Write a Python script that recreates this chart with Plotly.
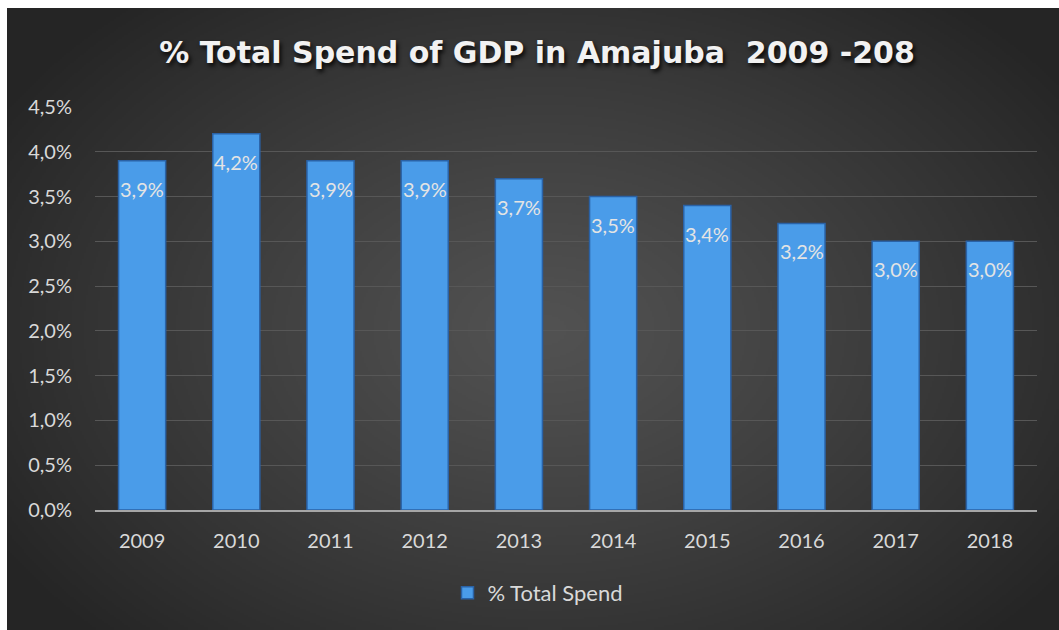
import base64, struct, zlib
import numpy as np
import plotly.graph_objects as go

years = ["2009", "2010", "2011", "2012", "2013", "2014", "2015", "2016", "2017", "2018"]
spend_pct = [3.9, 4.2, 3.9, 3.9, 3.7, 3.5, 3.4, 3.2, 3.0, 3.0]
y_ticks = [0, 0.5, 1.0, 1.5, 2.0, 2.5, 3.0, 3.5, 4.0, 4.5]

W, H = 1059, 630
L, R, T, B = 95, 22, 107, 120
PW, PH = W - L - R, H - T - B


def png_uri(arr):
    h, w, _ = arr.shape
    raw = b"".join(b"\x00" + arr[i].tobytes() for i in range(h))

    def chunk(tag, data):
        return struct.pack(">I", len(data)) + tag + data + struct.pack(">I", zlib.crc32(tag + data) & 0xFFFFFFFF)

    png = b"\x89PNG\r\n\x1a\n" + chunk(b"IHDR", struct.pack(">IIBBBBB", w, h, 8, 2, 0, 0, 0)) \
        + chunk(b"IDAT", zlib.compress(raw, 9)) + chunk(b"IEND", b"")
    return "data:image/png;base64," + base64.b64encode(png).decode()


# radial background gradient (decoration)
gw, gh = 526, 311
xs = np.linspace(7, W, gw)
ys = np.linspace(8, H, gh)
X, Y = np.meshgrid(xs, ys)
d = np.sqrt(((X - 545) / 640) ** 2 + ((Y - 330) / 440) ** 2)
d = np.clip(d, 0, 1)
val = 0x52 - (0x52 - 0x25) * d ** 1.15
img = np.repeat(val[:, :, None], 3, axis=2).astype(np.uint8)
bg_uri = png_uri(img)

labels = [f"{v:.1f}".replace(".", ",") + "%" for v in spend_pct]
ytick_text = [f"{v:.1f}".replace(".", ",") + "%" for v in y_ticks]

fig = go.Figure()
fig.add_trace(go.Bar(
    x=years, y=spend_pct, name="% Total Spend",
    marker=dict(color="#4a9ce9", line=dict(color="#2a62a6", width=1.5)),
    hoverinfo="skip",
))

# category index positions on the category axis
for i, (v, lab) in enumerate(zip(spend_pct, labels)):
    fig.add_annotation(x=i, y=v, xref="x", yref="y", text=lab, showarrow=False, yshift=-28,
                       font=dict(family="Lato", size=20, color="#e4e4e4"))

fig.update_layout(
    width=W, height=H,
    margin=dict(l=L, r=R, t=T, b=B),
    paper_bgcolor="white",
    plot_bgcolor="rgba(0,0,0,0)",
    bargap=0.5,
    showlegend=True,
    title=dict(
        text="% Total Spend of GDP in Amajuba\u00a0 2009 -208",
        x=537 / W, xanchor="center", xref="container",
        y=1 - 52 / H, yanchor="middle", yref="container",
        font=dict(family="DejaVu Sans", size=30, color="#f2f2f2", weight="bold",
                  shadow="2px 3px 4px rgba(0,0,0,0.85)"),
    ),
    legend=dict(
        orientation="h", x=538 / W, xanchor="center", xref="container",
        y=1 - 593 / H, yanchor="middle", yref="container",
        font=dict(family="Lato", size=22, color="#d9d9d9"),
        bgcolor="rgba(0,0,0,0)", itemwidth=30,
    ),
    images=[dict(
        source=bg_uri, xref="paper", yref="paper",
        x=(7 - L) / PW, y=(H - B - 8) / PH,
        sizex=(W - 7) / PW, sizey=(H - 8) / PH,
        xanchor="left", yanchor="top", sizing="stretch", layer="below",
    )],
    xaxis=dict(
        type="category", categoryorder="array", categoryarray=years,
        showgrid=False, showline=True, linecolor="#a6a6a6", linewidth=2,
        ticks="outside", ticklen=12, tickcolor="rgba(0,0,0,0)",
        tickfont=dict(family="Lato", size=20, color="#d9d9d9"),
    ),
    yaxis=dict(
        range=[0, 4.5], tickmode="array", tickvals=y_ticks, ticktext=ytick_text,
        showgrid=True, gridcolor="#575757", gridwidth=1, zeroline=False,
        ticks="outside", ticklen=18, tickcolor="rgba(0,0,0,0)",
        tickfont=dict(family="Lato", size=20, color="#d9d9d9"),
    ),
)

fig.write_html("out.html")
